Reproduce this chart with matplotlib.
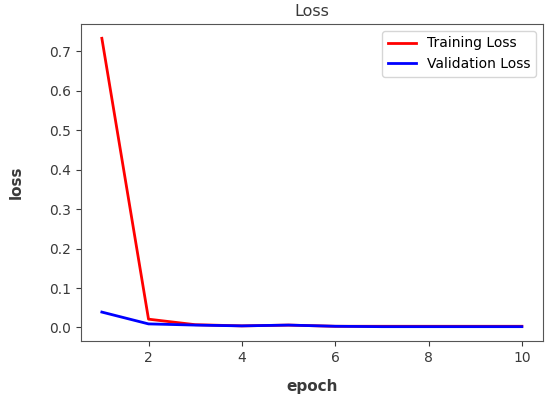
import matplotlib
matplotlib.use("Agg")
import matplotlib.pyplot as plt

epochs = [1, 2, 3, 4, 5, 6, 7, 8, 9, 10]
training_loss = [0.733, 0.021, 0.007, 0.004, 0.006, 0.003, 0.003, 0.003, 0.003, 0.003]
validation_loss = [0.039, 0.009, 0.006, 0.004, 0.006, 0.003, 0.002, 0.002, 0.002, 0.002]
xticks = [2, 4, 6, 8, 10]

txt = "#3a3a3a"
fig = plt.figure(figsize=(5.5, 3.98), dpi=100)
ax = fig.add_axes([0.147, 0.143, 0.840, 0.797])
ax.plot(epochs, training_loss, color="red", lw=2, label="Training Loss")
ax.plot(epochs, validation_loss, color="blue", lw=2, label="Validation Loss")
ax.set_xticks(xticks)
ax.set_title("Loss", fontsize=11.5, color=txt, pad=6)
ax.set_xlabel("epoch", fontsize=11, fontweight="bold", color=txt, labelpad=10)
ax.set_ylabel("loss", fontsize=11, fontweight="bold", color=txt, labelpad=18)
ax.tick_params(colors=txt, labelsize=10)
for s in ax.spines.values():
    s.set_color("#555555")
ax.legend(loc="upper right", fontsize=10)
fig.savefig("out.png", dpi=100)
